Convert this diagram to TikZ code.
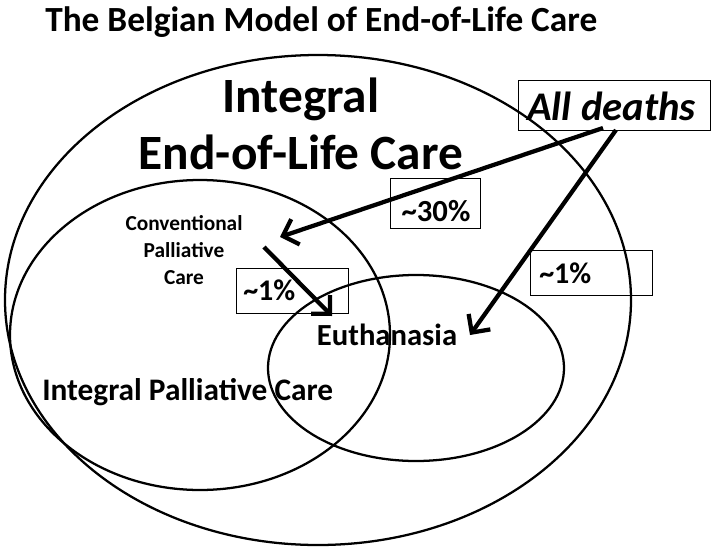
\documentclass[tikz,border=0pt]{standalone}
\usepackage{fontspec}
\setmainfont{Carlito}
\usetikzlibrary{arrows.meta,shapes.geometric}
\begin{document}
\begin{tikzpicture}[x=0.75pt,y=-0.75pt,
  ring/.style={draw,line width=1.7pt},
  box/.style={draw,line width=1.1pt,inner sep=0pt},
  lbl/.style={font=\bfseries,inner sep=0pt},
  arr/.style={line width=3.2pt,-{Straight Barb[length=10pt,width=20pt,line width=3.2pt]}}]
\useasboundingbox (0,0) rectangle (718,550);
% title
\node[lbl,font=\bfseries\fontsize{26.5}{30}\selectfont,anchor=west] (title) at (45,22) {The Belgian Model of End-of-Life Care};
% ellipses
\draw[ring] (318,300) ellipse[x radius=313, y radius=245];
\draw[ring] (200,335) ellipse[x radius=190, y radius=155];
\draw[ring] (416,368) ellipse[x radius=148, y radius=93];
% labels
\node[lbl,font=\bfseries\fontsize{37}{42}\selectfont,align=center] (ilct) at (301,124) {Integral\\[1pt]End-of-Life Care};
\node[lbl,font=\bfseries\fontsize{16}{20.5}\selectfont,align=center] (cpc) at (184,250) {Conventional\\Palliative\\Care};
\node[lbl,font=\bfseries\fontsize{23}{27}\selectfont] (eu) at (387,335) {Euthanasia};
\node[lbl,font=\bfseries\fontsize{23.5}{27}\selectfont,anchor=west] (ipc) at (42,392) {Integral Palliative Care};
% boxes
\node[box,minimum width=192*0.75pt,minimum height=50*0.75pt,anchor=north west] (all) at (518,80) {};
\node[lbl,font=\bfseries\itshape\fontsize{30.5}{34}\selectfont,anchor=west] (allt) at (527,106) {All deaths};
\node[box,minimum width=90*0.75pt,minimum height=50*0.75pt,anchor=north west] (b30) at (390,178) {};
\node[lbl,font=\bfseries\fontsize{23}{27}\selectfont] (t30) at (436,211) {\textasciitilde30\%};
\node[box,minimum width=122*0.75pt,minimum height=45*0.75pt,anchor=north west] (b1r) at (530,250) {};
\node[lbl,font=\bfseries\fontsize{22.5}{26}\selectfont,anchor=west] (t1r) at (539,273) {\textasciitilde1\%};
\node[box,minimum width=112*0.75pt,minimum height=45*0.75pt,anchor=north west] (b1l) at (236,268) {};
\node[lbl,font=\bfseries\fontsize{22.5}{26}\selectfont,anchor=west] (t1l) at (243,290) {\textasciitilde1\%};
% arrows
\coordinate (s1) at (603,128);
\coordinate (e1) at (280,237);
\coordinate (s2) at (616,130);
\coordinate (e2) at (470,335);
\coordinate (s3) at (264,247);
\coordinate (e3) at (332,316);
\draw[arr] (s1) -- (e1);
\draw[arr] (s2) -- (e2);
\draw[arr] (s3) -- (e3);
\end{tikzpicture}
\end{document}
